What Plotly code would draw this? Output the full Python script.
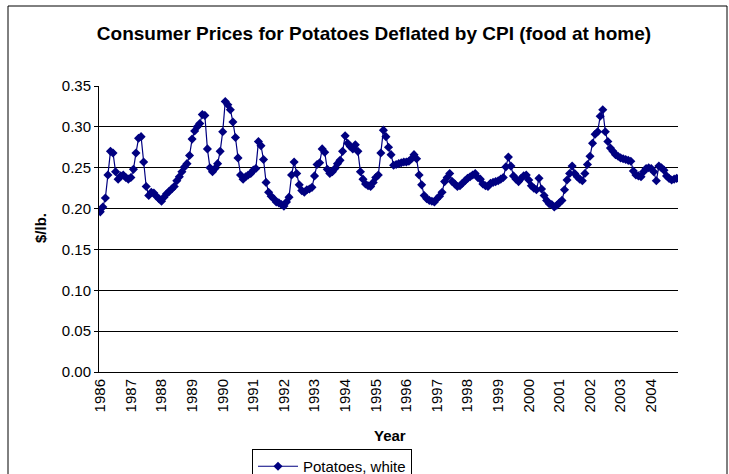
import plotly.graph_objects as go

years = [str(y) for y in range(1986, 2005)]

prices_1986 = [0.196, 0.202, 0.213, 0.241, 0.270, 0.268, 0.245, 0.236, 0.240, 0.241, 0.238, 0.236]
prices_1987 = [0.238, 0.248, 0.268, 0.286, 0.288, 0.257, 0.227, 0.216, 0.220, 0.219, 0.215, 0.212]
prices_1988 = [0.209, 0.214, 0.218, 0.221, 0.224, 0.227, 0.234, 0.239, 0.245, 0.251, 0.255, 0.265]
prices_1989 = [0.285, 0.295, 0.300, 0.304, 0.315, 0.314, 0.273, 0.250, 0.245, 0.249, 0.255, 0.270]
prices_1990 = [0.294, 0.331, 0.327, 0.321, 0.306, 0.287, 0.262, 0.241, 0.236, 0.239, 0.241, 0.243]
prices_1991 = [0.247, 0.249, 0.282, 0.277, 0.260, 0.232, 0.220, 0.215, 0.212, 0.208, 0.207, 0.205]
prices_1992 = [0.203, 0.208, 0.214, 0.241, 0.257, 0.243, 0.229, 0.222, 0.220, 0.223, 0.224, 0.226]
prices_1993 = [0.240, 0.254, 0.256, 0.273, 0.269, 0.248, 0.243, 0.245, 0.249, 0.255, 0.259, 0.270]
prices_1994 = [0.289, 0.280, 0.276, 0.273, 0.278, 0.270, 0.245, 0.236, 0.230, 0.228, 0.227, 0.232]
prices_1995 = [0.238, 0.241, 0.268, 0.296, 0.288, 0.275, 0.266, 0.253, 0.254, 0.255, 0.256, 0.257]
prices_1996 = [0.257, 0.258, 0.261, 0.266, 0.261, 0.241, 0.229, 0.216, 0.212, 0.210, 0.209, 0.208]
prices_1997 = [0.212, 0.215, 0.220, 0.233, 0.238, 0.243, 0.233, 0.230, 0.227, 0.228, 0.231, 0.234]
prices_1998 = [0.237, 0.239, 0.241, 0.243, 0.238, 0.236, 0.230, 0.228, 0.227, 0.231, 0.232, 0.233]
prices_1999 = [0.234, 0.236, 0.238, 0.251, 0.263, 0.252, 0.240, 0.236, 0.233, 0.237, 0.240, 0.241]
prices_2000 = [0.235, 0.228, 0.225, 0.223, 0.237, 0.224, 0.216, 0.210, 0.206, 0.205, 0.202, 0.204]
prices_2001 = [0.207, 0.210, 0.223, 0.235, 0.243, 0.252, 0.243, 0.239, 0.236, 0.234, 0.243, 0.254]
prices_2002 = [0.264, 0.280, 0.291, 0.294, 0.313, 0.321, 0.294, 0.282, 0.274, 0.270, 0.266, 0.264]
prices_2003 = [0.262, 0.261, 0.260, 0.259, 0.258, 0.246, 0.241, 0.240, 0.239, 0.245, 0.249, 0.250]
prices_2004 = [0.249, 0.245, 0.234, 0.252, 0.250, 0.247, 0.240, 0.237, 0.235, 0.236, 0.237]

prices = (prices_1986 + prices_1987 + prices_1988 + prices_1989 + prices_1990 +
          prices_1991 + prices_1992 + prices_1993 + prices_1994 + prices_1995 +
          prices_1996 + prices_1997 + prices_1998 + prices_1999 + prices_2000 +
          prices_2001 + prices_2002 + prices_2003 + prices_2004)
months = list(range(len(prices)))

y_ticks = [0.0, 0.05, 0.10, 0.15, 0.20, 0.25, 0.30, 0.35]

NAVY = "#000080"
FONT = "Liberation Sans, Arial, sans-serif"

fig = go.Figure()
fig.add_trace(go.Scatter(
    x=months, y=prices, mode="lines+markers",
    name="Potatoes, white",
    line=dict(color=NAVY, width=1.2),
    marker=dict(symbol="diamond", size=7, color=NAVY),
))

W, H = 729, 474
plot_left, plot_right, plot_top, plot_bottom = 99, 678, 86, 372
L, R, T, B = plot_left, W - plot_right, plot_top, H - plot_bottom
pw, ph = W - L - R, H - T - B

def px(x):  # page x -> paper
    return (x - L) / pw

def py(y):  # page y -> paper
    return (H - B - y) / ph

fig.update_layout(
    width=W, height=H,
    margin=dict(l=L, r=R, t=T, b=B, autoexpand=False),
    paper_bgcolor="white", plot_bgcolor="white",
    font=dict(family=FONT, size=15, color="black"),
    title=dict(text="<b>Consumer Prices for Potatoes Deflated by CPI (food at home)</b>",
               font=dict(size=19, family=FONT, color="black"),
               x=374 / W, xanchor="center", y=1 - 33 / H, yanchor="middle",
               xref="container", yref="container"),
    showlegend=True,
    legend=dict(x=px(252), y=py(449), xanchor="left", yanchor="top",
                bordercolor="black", borderwidth=1, bgcolor="white",
                itemwidth=40, font=dict(size=15, family=FONT)),
    shapes=[dict(type="rect", xref="paper", yref="paper",
                 x0=px(8), x1=px(727), y0=py(490), y1=py(6),
                 line=dict(color="black", width=1), fillcolor="rgba(0,0,0,0)", layer="above")],
    annotations=[
        dict(text="<b>Year</b>", xref="paper", yref="paper", x=px(390), y=py(435),
             showarrow=False, font=dict(size=15, family=FONT), xanchor="center", yanchor="middle"),
        dict(text="<b>$/lb.</b>", xref="paper", yref="paper", x=px(40), y=py(228),
             showarrow=False, textangle=-90, font=dict(size=15, family=FONT),
             xanchor="center", yanchor="middle"),
    ],
)

fig.update_xaxes(
    range=[-0.5, len(prices) - 0.5],
    tickmode="array", tickvals=[12 * k for k in range(len(years))], ticktext=years,
    tickangle=-90, showline=True, linecolor="black", linewidth=1,
    showgrid=False, zeroline=False, ticks="", tickfont=dict(size=15, family=FONT),
)
fig.update_yaxes(
    range=[0, 0.35], tickmode="array", tickvals=y_ticks,
    ticktext=[f"{v:.2f}" for v in y_ticks],
    showline=True, linecolor="black", linewidth=1,
    showgrid=True, gridcolor="black", gridwidth=1, zeroline=False,
    ticks="outside", ticklen=4, tickcolor="black", tickfont=dict(size=15, family=FONT),
)

fig.write_html("out.html", config={"displayModeBar": False},
               post_script="document.body.style.margin='0';document.body.style.overflow='hidden';")
